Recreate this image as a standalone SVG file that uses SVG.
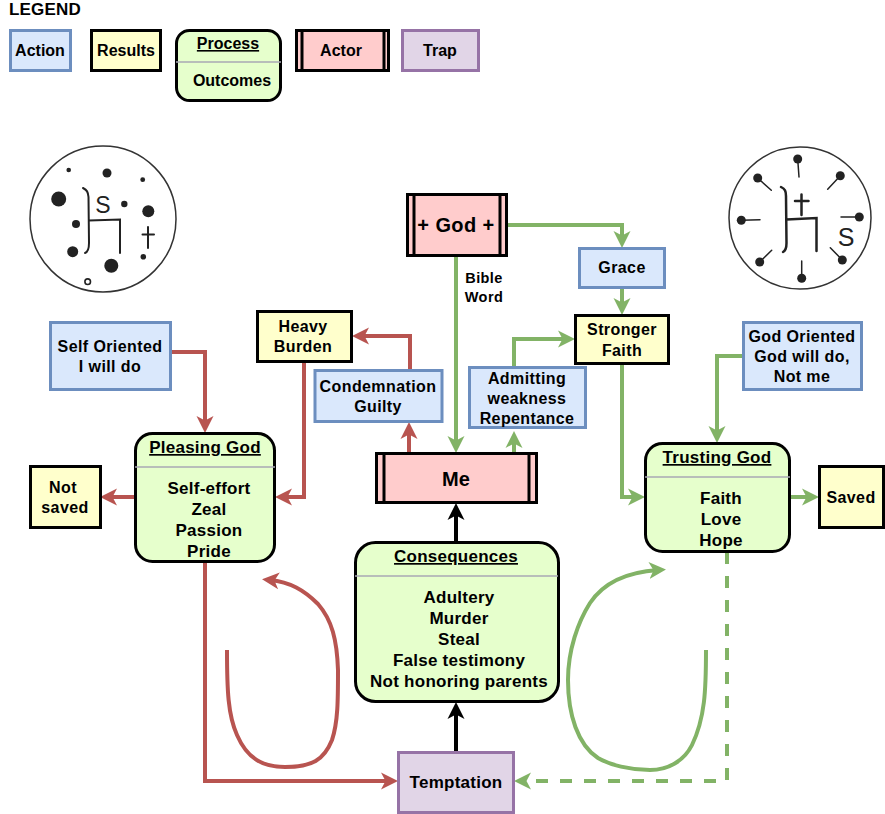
<svg xmlns="http://www.w3.org/2000/svg" width="885" height="814" viewBox="0 0 885 814">
<style>
text{font-family:"Liberation Sans",Arial,sans-serif;font-weight:700;font-size:16px;letter-spacing:.4px;text-anchor:middle;fill:#000}
.act{fill:#dae8fc;stroke:#6c8ebf;stroke-width:3}
.res{fill:#ffffcc;stroke:#000;stroke-width:3}
.pro{fill:#e6ffcc;stroke:#000;stroke-width:3}
.actor{fill:#ffcccc;stroke:#000;stroke-width:3}
.trap{fill:#e1d5e7;stroke:#9673a6;stroke-width:3}
.sep{stroke:#a9a9b4;stroke-width:1.5;fill:none}
.in{stroke:#000;stroke-width:3;fill:none}
.u{text-decoration:underline}
.lg{letter-spacing:0}
.b{font-size:17px;letter-spacing:.25px}
.c{fill:none;stroke-width:4}
.r{stroke:#b85450;marker-end:url(#ar)}
.g{stroke:#82b366;marker-end:url(#ag)}
.k{stroke:#000;marker-end:url(#ak)}
.ink{fill:none;stroke:#222;stroke-width:2;stroke-linecap:round}
.dot{fill:#222;stroke:none}
.s{font-weight:400;letter-spacing:0;fill:#222}
</style>
<defs>
<marker id="ar" markerUnits="userSpaceOnUse" markerWidth="18" markerHeight="18" viewBox="0 0 18 18" refX="9" refY="9" orient="auto"><path d="M17 9L0 .5L4.5 9L0 17.5Z" fill="#b85450"/></marker>
<marker id="ag" markerUnits="userSpaceOnUse" markerWidth="18" markerHeight="18" viewBox="0 0 18 18" refX="9" refY="9" orient="auto"><path d="M17 9L0 .5L4.5 9L0 17.5Z" fill="#82b366"/></marker>
<marker id="ak" markerUnits="userSpaceOnUse" markerWidth="18" markerHeight="18" viewBox="0 0 18 18" refX="9" refY="9" orient="auto"><path d="M17 9L0 .5L4.5 9L0 17.5Z" fill="#000"/></marker>
</defs>
<g id="legend">
<text x="45" y="15" style="font-size:17px;letter-spacing:.2px">LEGEND</text>
<g id="legend-action"><rect class="act" x="10.500" y="30.500" width="60" height="40"/><text class="lg" x="40" y="56">Action</text></g>
<g id="legend-results"><rect class="res" x="91.500" y="30.500" width="69" height="40"/><text class="lg" x="126" y="56">Results</text></g>
<g id="legend-process"><rect class="pro" x="176.500" y="30.500" width="104" height="70" rx="13"/><line class="sep" x1="176" y1="62" x2="281" y2="62"/><text class="u lg" x="228" y="49">Process</text><text class="lg" x="232" y="86">Outcomes</text></g>
<g id="legend-actor"><rect class="actor" x="296.500" y="30.500" width="92" height="40"/><line class="in" x1="302" y1="30" x2="302" y2="71"/><line class="in" x1="384" y1="30" x2="384" y2="71"/><text class="lg" x="341" y="56">Actor</text></g>
<g id="legend-trap"><rect class="trap" x="402.500" y="30.500" width="76" height="40"/><text class="lg" x="440" y="56">Trap</text></g>
</g>

<g id="seal-left">
<circle cx="103" cy="219" r="73" fill="#fff" stroke="#333" stroke-width="1.5"/>
<circle class="dot" cx="68.700" cy="170" r="2.300"/><circle class="dot" cx="107" cy="173" r="4.500"/><circle class="dot" cx="142.700" cy="179.700" r="2.400"/><circle class="dot" cx="58.700" cy="199" r="7.500"/><circle class="dot" cx="124.300" cy="204" r="3.200"/><circle class="dot" cx="148.300" cy="211.300" r="6"/><circle class="dot" cx="76" cy="224" r="4"/><circle class="dot" cx="72.700" cy="251.700" r="5.500"/><circle class="dot" cx="143.300" cy="256.700" r="2.800"/><circle class="dot" cx="111.300" cy="265.700" r="7"/><circle cx="87.700" cy="281.700" r="2.800" fill="#fff" stroke="#222" stroke-width="1.600"/>
<path class="ink" d="M83 188C87 190 88 192 88.500 197L89 243C89 249 88 252 85 253M89 220.500L120 219.500V253M148 227V248M142.500 234.500H154"/>
<text class="s" x="103" y="213" style="font-size:23px">S</text>
</g>
<g id="seal-right">
<circle cx="800" cy="218" r="71" fill="#fff" stroke="#333" stroke-width="1.500"/>
<path class="ink" style="stroke-width:1.500" d="M797.700 159L799 177M840.300 175.700L827.700 189.300M859.300 217H841M842.300 260L830.300 247.700M801.700 278.300V261M759.700 262L771.700 250.300M741.300 220.300L760 219.700M757.700 178L771.300 190.300"/>
<circle class="dot" cx="797.700" cy="159" r="4.500"/><circle class="dot" cx="840.300" cy="175.700" r="4.500"/><circle class="dot" cx="859.300" cy="217" r="4.500"/><circle class="dot" cx="842.300" cy="260" r="4.500"/><circle class="dot" cx="801.700" cy="278.300" r="4.500"/><circle class="dot" cx="759.700" cy="262" r="4.500"/><circle class="dot" cx="741.300" cy="220.300" r="4.500"/><circle class="dot" cx="757.700" cy="178" r="4.500"/>
<path class="ink" style="stroke-width:2.500" d="M781 187C785 189 786 191 786 196L786.500 243C786.500 249 785 251 783 252M786.500 219.500L816.500 218V251M801.500 194.500V215M795 201H808.500"/>
<text class="s" x="846" y="246" style="font-size:25px">S</text>
</g>

<g id="connectors">
<path class="c g" d="M456 256V445"/>
<path class="c g" d="M507 225H622V240"/>
<path class="c g" d="M622 288V307"/>
<path class="c g" d="M622 364V497H637"/>
<path class="c g" d="M514 367V339H567"/>
<path class="c g" d="M514 453V439"/>
<path class="c r" d="M409 453V430"/>
<path class="c r" d="M410 370V336H360"/>
<path class="c r" d="M304 362V497H283"/>
<path class="c r" d="M170 352H205V425"/>
<path class="c r" d="M135 497H108"/>
<path class="c g" d="M790 497H811"/>
<path class="c g" d="M743 356H717V435"/>
<path class="c k" d="M456 752V710"/>
<path class="c k" d="M456 542V511"/>
<path class="c r" d="M205 562V781H390"/>
<path class="c g" style="stroke-dasharray:12 12" d="M727 552V781H522"/>
<path class="c r" d="M227 650C227 690 228 715 237 735C247 758 262 767 285 767C312 767 324 760 332 740C338 722 338 700 338 670C337 640 332 620 318 604C304 590 290 582 270 580"/>
<path class="c g" d="M706 650C706 690 705 718 692 745C684 761 668 770 650 770C630 770 610 765 598 758C578 745 568 715 568 680C568 650 578 622 590 603C604 582 628 572 658 570"/>
</g>

<g id="god"><rect class="actor" x="407.500" y="194.500" width="99" height="61"/><line class="in" x1="414" y1="194" x2="414" y2="256"/><line class="in" x1="500" y1="194" x2="500" y2="256"/><text x="456" y="232" style="font-size:20px">+ God +</text></g>
<g id="bible-word"><text x="484" y="283" style="font-size:14.500px">Bible</text><text x="484" y="302" style="font-size:14.500px">Word</text></g>
<g id="grace"><rect class="act" x="579.500" y="248.500" width="85" height="39"/><text x="622" y="273">Grace</text></g>
<g id="stronger-faith"><rect class="res" x="575.500" y="315.500" width="93" height="48"/><text x="622" y="335">Stronger</text><text x="622" y="356">Faith</text></g>
<g id="heavy-burden"><rect class="res" x="257.500" y="311.500" width="94" height="50"/><text x="303" y="332">Heavy</text><text x="303" y="352">Burden</text></g>
<g id="self-oriented"><rect class="act" x="50.500" y="322.500" width="120" height="67"/><text x="110" y="352">Self Oriented</text><text x="110" y="372">I will do</text></g>
<g id="god-oriented"><rect class="act" x="743.500" y="322.500" width="118" height="67"/><text x="802" y="342">God Oriented</text><text x="802" y="362">God will do,</text><text x="802" y="382">Not me</text></g>
<g id="condemnation"><rect class="act" x="315" y="370.500" width="127" height="51"/><text x="378" y="392">Condemnation</text><text x="378" y="412">Guilty</text></g>
<g id="admitting"><rect class="act" x="469.500" y="367.500" width="116" height="60"/><text x="527" y="384">Admitting</text><text x="527" y="404">weakness</text><text x="527" y="424">Repentance</text></g>
<g id="me"><rect class="actor" x="376.500" y="453.500" width="160" height="49"/><line class="in" x1="384" y1="453" x2="384" y2="503"/><line class="in" x1="529" y1="453" x2="529" y2="503"/><text x="456" y="486" style="font-size:20px;letter-spacing:0">Me</text></g>
<g id="pleasing-god"><rect class="pro" x="135.500" y="433.500" width="139" height="128" rx="17"/><line class="sep" x1="135" y1="467" x2="275" y2="467"/><text class="u b" x="205" y="453">Pleasing God</text><text class="b" x="209" y="494">Self-effort</text><text class="b" x="209" y="515">Zeal</text><text class="b" x="209" y="536">Passion</text><text class="b" x="209" y="557">Pride</text></g>
<g id="not-saved"><rect class="res" x="30.500" y="466.500" width="70" height="61"/><text x="63" y="493">Not</text><text x="65" y="513">saved</text></g>
<g id="trusting-god"><rect class="pro" x="645.500" y="443.500" width="144" height="108" rx="17"/><line class="sep" x1="645" y1="477" x2="790" y2="477"/><text class="u b" x="717" y="463">Trusting God</text><text class="b" x="721" y="504">Faith</text><text class="b" x="721" y="525">Love</text><text class="b" x="721" y="546">Hope</text></g>
<g id="saved"><rect class="res" x="819.500" y="466.500" width="64" height="61"/><text x="851" y="503">Saved</text></g>
<g id="consequences"><rect class="pro" x="355.500" y="542.500" width="203" height="159" rx="20"/><line class="sep" x1="355" y1="576" x2="558" y2="576"/><text class="u b" x="456" y="562">Consequences</text><text class="b" x="459" y="603">Adultery</text><text class="b" x="459" y="624">Murder</text><text class="b" x="459" y="645">Steal</text><text class="b" x="459" y="666">False testimony</text><text class="b" x="459" y="687">Not honoring parents</text></g>
<g id="temptation"><rect class="trap" x="398.500" y="752.500" width="115" height="60"/><text class="b" x="456" y="788">Temptation</text></g>
</svg>
